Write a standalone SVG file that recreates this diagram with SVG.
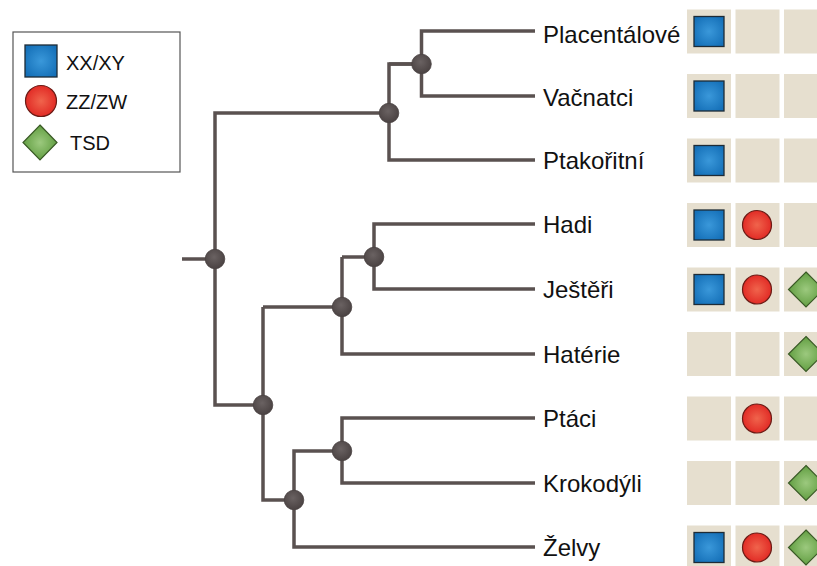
<svg xmlns="http://www.w3.org/2000/svg" width="817" height="566" viewBox="0 0 817 566">
<defs>
<radialGradient id="gBlue" cx="50%" cy="50%" r="60%"><stop offset="0" stop-color="#3a98da"/><stop offset="1" stop-color="#1570b8"/></radialGradient>
<radialGradient id="gRed" cx="50%" cy="50%" r="55%"><stop offset="0" stop-color="#f0644c"/><stop offset="1" stop-color="#e02622"/></radialGradient>
<radialGradient id="gGreen" cx="50%" cy="50%" r="55%"><stop offset="0" stop-color="#9cc97e"/><stop offset="1" stop-color="#5c9a3c"/></radialGradient>
<radialGradient id="gNode" cx="45%" cy="40%" r="60%"><stop offset="0" stop-color="#6a6262"/><stop offset="1" stop-color="#4a4242"/></radialGradient>
<symbol id="sq" overflow="visible"><rect x="-15" y="-15" width="30" height="30" fill="url(#gBlue)" stroke="#1e2b36" stroke-width="1.3"/></symbol>
<symbol id="ci" overflow="visible"><circle r="14.5" fill="url(#gRed)" stroke="#6b1c16" stroke-width="1.2"/></symbol>
<symbol id="di" overflow="visible"><polygon points="0,-17.5 17.5,0 0,17.5 -17.5,0" fill="url(#gGreen)" stroke="#3a5a26" stroke-width="1.2"/></symbol>
</defs>
<style>
.ln{fill:none;stroke:#5a5150;stroke-width:3.5;stroke-linecap:butt;stroke-linejoin:miter}
.nd{fill:url(#gNode);stroke:#4a4242;stroke-width:0.8}
.lb{font-family:"Liberation Sans",Arial,sans-serif;font-size:24px;fill:#111}
.lg{font-family:"Liberation Sans",Arial,sans-serif;font-size:20px;fill:#111}
.bx{fill:#e6dfcf}
</style>
<rect width="817" height="566" fill="#ffffff"/>

<g id="legend">
<rect x="13" y="32" width="167" height="140" fill="#ffffff" stroke="#555" stroke-width="1.2"/>
<rect x="25" y="45" width="32" height="32" fill="url(#gBlue)" stroke="#1e2b36" stroke-width="1.3"/>
<text class="lg" x="66" y="70">XX/XY</text>
<circle cx="41" cy="101" r="15.5" fill="url(#gRed)" stroke="#6b1c16" stroke-width="1.2"/>
<text class="lg" x="66" y="109">ZZ/ZW</text>
<polygon points="40,125 57,142.5 40,160 23,142.5" fill="url(#gGreen)" stroke="#3a5a26" stroke-width="1.2"/>
<text class="lg" x="70" y="150">TSD</text>
</g>

<g id="connectors">
<path class="ln" d="M182,259 H215"/>
<path class="ln" d="M389,113 H215 V405 H263"/>
<path class="ln" d="M535,31 H421.5 V96 H535"/>
<path class="ln" d="M389,64 H421.5"/>
<path class="ln" d="M421.5,64 H389 V160 H535"/>
<path class="ln" d="M263,307 H342 V354 H535"/>
<path class="ln" d="M342,257 H374"/>
<path class="ln" d="M535,224 H374 V289 H535"/>
<path class="ln" d="M263,307 V500 H294"/>
<path class="ln" d="M342,451 H294 V547 H535"/>
<path class="ln" d="M342,307 V257"/>
<path class="ln" d="M535,418 H342 V483 H535"/>
</g>

<g id="node-root"><circle class="nd" cx="215" cy="259" r="9.8"/></g>
<g id="node-mammals"><circle class="nd" cx="389" cy="113" r="9.8"/></g>
<g id="node-therians"><circle class="nd" cx="421.5" cy="64" r="9.8"/></g>
<g id="node-sauropsids"><circle class="nd" cx="263" cy="405" r="9.8"/></g>
<g id="node-lepidosaurs"><circle class="nd" cx="342" cy="307" r="9.8"/></g>
<g id="node-squamates"><circle class="nd" cx="374" cy="257" r="9.8"/></g>
<g id="node-archelosaurs"><circle class="nd" cx="294" cy="500" r="9.8"/></g>
<g id="node-archosaurs"><circle class="nd" cx="342" cy="451" r="9.8"/></g>

<g id="leaf-placentalove">
<text class="lb" x="543" y="43">Placentálové</text>
<rect class="bx" x="687" y="9.5" width="44" height="44"/><rect class="bx" x="735.5" y="9.5" width="44" height="44"/><rect class="bx" x="784" y="9.5" width="44" height="44"/>
<use href="#sq" x="709" y="31.5"/>
</g>
<g id="leaf-vacnatci">
<text class="lb" x="543" y="106">Vačnatci</text>
<rect class="bx" x="687" y="74" width="44" height="44"/><rect class="bx" x="735.5" y="74" width="44" height="44"/><rect class="bx" x="784" y="74" width="44" height="44"/>
<use href="#sq" x="709" y="96"/>
</g>
<g id="leaf-ptakoritni">
<text class="lb" x="543" y="169">Ptakořitní</text>
<rect class="bx" x="687" y="138.5" width="44" height="44"/><rect class="bx" x="735.5" y="138.5" width="44" height="44"/><rect class="bx" x="784" y="138.5" width="44" height="44"/>
<use href="#sq" x="709" y="160.5"/>
</g>
<g id="leaf-hadi">
<text class="lb" x="543" y="233">Hadi</text>
<rect class="bx" x="687" y="203" width="44" height="44"/><rect class="bx" x="735.5" y="203" width="44" height="44"/><rect class="bx" x="784" y="203" width="44" height="44"/>
<use href="#sq" x="709" y="225"/><use href="#ci" x="757" y="225"/>
</g>
<g id="leaf-jesteri">
<text class="lb" x="543" y="298">Ještěři</text>
<rect class="bx" x="687" y="267.5" width="44" height="44"/><rect class="bx" x="735.5" y="267.5" width="44" height="44"/><rect class="bx" x="784" y="267.5" width="44" height="44"/>
<use href="#sq" x="709" y="289.5"/><use href="#ci" x="757" y="289.5"/><use href="#di" x="806" y="289.5"/>
</g>
<g id="leaf-haterie">
<text class="lb" x="543" y="363">Hatérie</text>
<rect class="bx" x="687" y="332" width="44" height="44"/><rect class="bx" x="735.5" y="332" width="44" height="44"/><rect class="bx" x="784" y="332" width="44" height="44"/>
<use href="#di" x="806" y="354"/>
</g>
<g id="leaf-ptaci">
<text class="lb" x="543" y="427">Ptáci</text>
<rect class="bx" x="687" y="396.5" width="44" height="44"/><rect class="bx" x="735.5" y="396.5" width="44" height="44"/><rect class="bx" x="784" y="396.5" width="44" height="44"/>
<use href="#ci" x="757" y="418.5"/>
</g>
<g id="leaf-krokodyli">
<text class="lb" x="543" y="492">Krokodýli</text>
<rect class="bx" x="687" y="461" width="44" height="44"/><rect class="bx" x="735.5" y="461" width="44" height="44"/><rect class="bx" x="784" y="461" width="44" height="44"/>
<use href="#di" x="806" y="483"/>
</g>
<g id="leaf-zelvy">
<text class="lb" x="543" y="556">Želvy</text>
<rect class="bx" x="687" y="525.5" width="44" height="44"/><rect class="bx" x="735.5" y="525.5" width="44" height="44"/><rect class="bx" x="784" y="525.5" width="44" height="44"/>
<use href="#sq" x="709" y="547.5"/><use href="#ci" x="757" y="547.5"/><use href="#di" x="806" y="547.5"/>
</g>
</svg>
